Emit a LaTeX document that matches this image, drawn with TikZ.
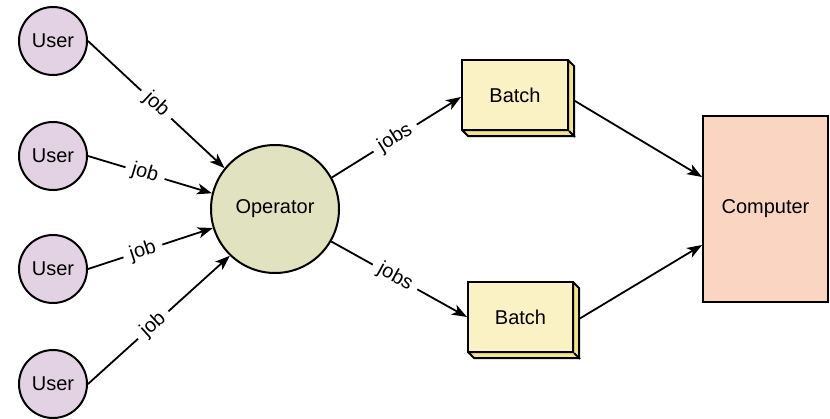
\documentclass[tikz,border=0pt]{standalone}
\usepackage{fontspec}
\setmainfont{Liberation Sans}
\usetikzlibrary{arrows.meta,calc}
\definecolor{userfill}{RGB}{227,210,227}
\definecolor{opfill}{RGB}{225,226,192}
\definecolor{batchfill}{RGB}{250,242,196}
\definecolor{batchside}{RGB}{242,226,138}
\definecolor{compfill}{RGB}{249,213,194}
\tikzset{
  every node/.style={font=\fontsize{20}{23}\selectfont},
  usernode/.style={circle,draw,line width=2pt,fill=userfill,minimum size=68pt,inner sep=0pt},
  opnode/.style={circle,draw,line width=2pt,fill=opfill,minimum size=128pt,inner sep=0pt},
  batchnode/.style={rectangle,draw,line width=2pt,fill=batchfill,minimum width=106pt,minimum height=70pt,inner sep=0pt},
  compnode/.style={rectangle,draw,line width=2pt,fill=compfill,minimum width=125pt,minimum height=186pt,inner sep=0pt},
  conn/.style={line width=1.8pt,-{Stealth[length=15pt,width=11pt,inset=4pt]}},
  lbl/.style={fill=white,sloped,inner xsep=7pt,inner ysep=1pt},
  sideface/.style={fill=batchside,draw,line width=2pt,line join=round}
}
\begin{document}
\begin{tikzpicture}[x=1pt,y=-1pt]
\useasboundingbox (0,0) rectangle (830,418);
\node[usernode] (u1) at (53,41) {User};
\node[usernode] (u2) at (53,156) {User};
\node[usernode] (u3) at (53,269) {User};
\node[usernode] (u4) at (53,384) {User};
\node[opnode] (op) at (275,209) {Operator};
% batch 3D extrusions
\fill[sideface] (515,95) ++(53,-35) -- ++(6,6) -- ++(0,70) -- ++(-106,0) -- ++(-6,-6) -- ++(106,0) -- cycle;
\node[batchnode] (b1) at (515,95) {Batch};
\draw[line width=2pt] (b1.south east) -- ++(6,6);
\fill[sideface] (520.5,317) ++(52.5,-35) -- ++(6,6) -- ++(0,70) -- ++(-105,0) -- ++(-6,-6) -- ++(105,0) -- cycle;
\node[batchnode,minimum width=105pt] (b2) at (520.5,317) {Batch};
\draw[line width=2pt] (b2.south east) -- ++(6,6);
\node[compnode] (comp) at (765.5,209) {Computer};
% connectors
\draw[conn] (u1.east) -- (op.141) node[lbl,pos=0.5] {job};
\draw[conn] (u2.east) -- (op.166) node[lbl,pos=0.46] {job};
\draw[conn] (u3.east) -- (op.197) node[lbl,pos=0.44] {job};
\draw[conn] (u4.east) -- (op.226) node[lbl,pos=0.46] {job};
\draw[conn] (op.29) -- ($(b1.west)+(0,2)$) node[lbl,pos=0.49] {jobs};
\draw[conn] (op.-30) -- (b2.west) node[lbl,pos=0.47] {jobs};
\coordinate (c1) at ($(comp.west)+(0,-32)$);
\coordinate (c2) at ($(comp.west)+(0,36)$);
\draw[conn] ($(b1.east)+(6,6)$) -- (c1);
\draw[conn] ($(b2.east)+(5,2)$) -- (c2);
\end{tikzpicture}
\end{document}
